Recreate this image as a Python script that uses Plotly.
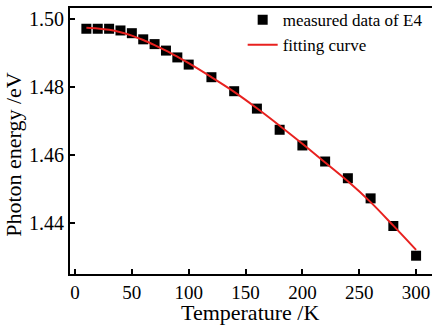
import plotly.graph_objects as go

# measured data
temperature = [10, 20, 30, 40, 50, 60, 70, 80, 90, 100, 120, 140, 160, 180, 200, 220, 240, 260, 280, 300]
energy = [1.4970, 1.4970, 1.4970, 1.4965, 1.4957, 1.4939, 1.4925, 1.4906, 1.4886, 1.4865,
          1.4828, 1.4787, 1.4736, 1.4674, 1.4628, 1.4581, 1.4532, 1.4473, 1.4392, 1.4305]

# fitting curve
fit_temperature = [10, 20, 30, 40, 50, 60, 70, 80, 90, 100, 120, 140, 160, 180, 200, 220, 240, 260, 280, 300]
fit_energy = [1.4973, 1.4971, 1.4967, 1.4960, 1.4950, 1.4937, 1.4922, 1.4906, 1.4888, 1.4869,
              1.4828, 1.4785, 1.4737, 1.4686, 1.4633, 1.4578, 1.4523, 1.4462, 1.4393, 1.4322]

x_ticks = [0, 50, 100, 150, 200, 250, 300]
y_ticks = [1.44, 1.46, 1.48, 1.50]

FONT = "Liberation Serif"

fig = go.Figure()
fig.add_trace(go.Scatter(
    x=temperature, y=energy, mode="markers", name="measured data of E4",
    marker=dict(symbol="square", size=10, color="black", line=dict(width=0)),
))
fig.add_trace(go.Scatter(
    x=fit_temperature, y=fit_energy, mode="lines", name="fitting curve",
    line=dict(color="#e8211f", width=2, shape="spline"),
))

fig.update_layout(
    width=432, height=325,
    margin=dict(l=70, r=0, t=8, b=51, autoexpand=False),
    paper_bgcolor="white", plot_bgcolor="white",
    font=dict(family=FONT, color="black", size=19),
    showlegend=True,
    legend=dict(x=0.477, y=1.022, xanchor="left", yanchor="top",
                bgcolor="rgba(0,0,0,0)", borderwidth=0,
                font=dict(family=FONT, size=17, color="black"),
                tracegroupgap=0),
    xaxis=dict(
        range=[-4.4, 314], tickvals=x_ticks, ticktext=[str(v) for v in x_ticks],
        showgrid=False, zeroline=False, automargin=False,
        showline=True, linecolor="black", linewidth=2, mirror=True,
        ticks="inside", ticklen=5, tickwidth=1.5, tickcolor="black",
        tickfont=dict(family=FONT, size=19),
    ),
    yaxis=dict(
        range=[1.42514, 1.50308], tickvals=y_ticks, ticktext=["%.2f" % v for v in y_ticks],
        showgrid=False, zeroline=False, automargin=False,
        showline=True, linecolor="black", linewidth=2,
        ticks="inside", ticklen=5, tickwidth=1.5, tickcolor="black",
        tickfont=dict(family=FONT, size=20),
    ),
    annotations=[
        dict(text="Photon energy /eV", textangle=-90, showarrow=False,
             xref="paper", yref="paper", x=-0.158, y=0.451, xanchor="center", yanchor="middle",
             font=dict(family=FONT, size=22, color="black")),
        dict(text="Temperature /K", showarrow=False,
             xref="paper", yref="paper", x=0.4986, y=-0.146, xanchor="center", yanchor="middle",
             font=dict(family=FONT, size=22, color="black")),
    ],
)

fig.write_html("out.html", config={"displayModeBar": False},
               post_script="document.body.style.margin='0';document.body.style.overflow='hidden';")
